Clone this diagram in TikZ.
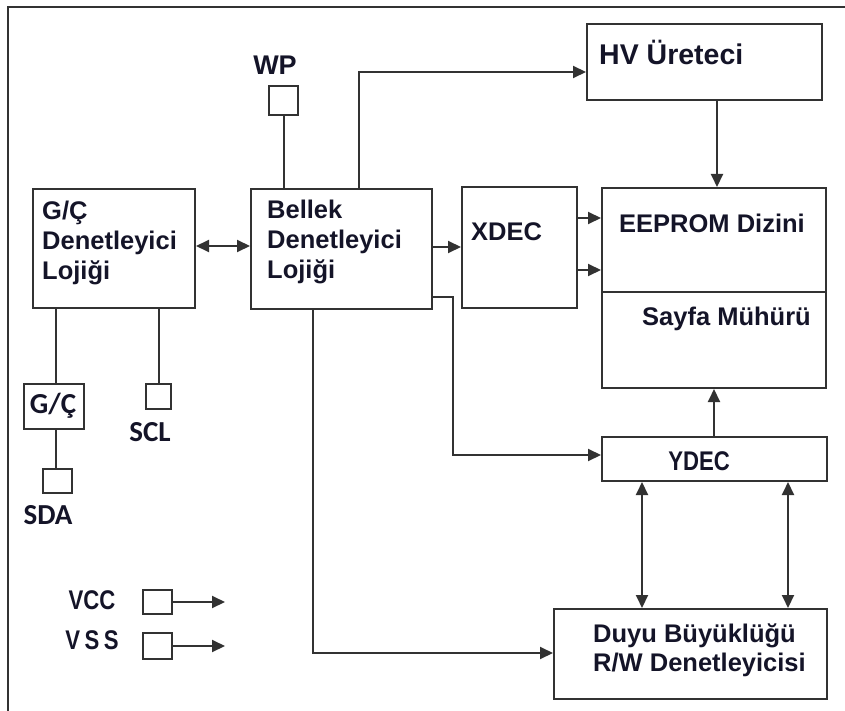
\documentclass[tikz,border=0pt]{standalone}
\usepackage{fontspec}
\setmainfont{Liberation Sans}
\newfontfamily\narrowfont[FakeStretch=0.82]{Liberation Sans}
\newfontfamily\calfont{Carlito}
\usetikzlibrary{arrows.meta}
\definecolor{ln}{RGB}{50,50,50}
\definecolor{tx}{RGB}{20,20,40}
\tikzset{
 box/.style={draw=ln, line width=2pt, inner sep=0pt, anchor=north west},
 lbl/.style={text=tx, inner sep=0pt, align=left},
 big/.style={lbl, anchor=west, font=\bfseries\fontsize{25.5}{30}\selectfont},
 narrowtxt/.style={lbl, font=\narrowfont\bfseries\fontsize{27}{30}\selectfont},
 caltxt/.style={lbl, font=\calfont\bfseries\fontsize{29}{32}\selectfont},
 conn/.style={draw=ln, line width=2pt},
 arr/.style={conn, -{Triangle[length=13pt,width=12pt]}},
 darr/.style={conn, {Triangle[length=13pt,width=12pt]}-{Triangle[length=13pt,width=12pt]}},
}
\begin{document}
\begin{tikzpicture}[x=1pt,y=-1pt]
\useasboundingbox (0,0) rectangle (845,711);
% outer frame
\draw[conn] (8,711) -- (8,7) -- (845,7);

% boxes
\node[box, minimum width=235pt, minimum height=76pt] (hv) at (586,23) {};
\node[box, minimum width=224pt, minimum height=200pt] (eep) at (601,187) {};
\node[box, minimum width=115pt, minimum height=121pt] (xdec) at (461,186) {};
\node[box, minimum width=181pt, minimum height=120pt] (bel) at (250,188) {};
\node[box, minimum width=162pt, minimum height=119pt] (gc) at (32,188) {};
\node[box, minimum width=225pt, minimum height=44pt] (ydec) at (601,436) {};
\node[box, minimum width=273pt, minimum height=90pt] (duyu) at (553,608) {};
\node[box, minimum width=60pt, minimum height=45pt] (gcs) at (23,383) {};
\node[box, minimum width=29pt, minimum height=29pt] (wp) at (268,85) {};
\node[box, minimum width=25pt, minimum height=25pt] (scl) at (145,383) {};
\node[box, minimum width=29pt, minimum height=24pt] (sda) at (42,468) {};
\node[box, minimum width=29pt, minimum height=24pt] (vcc) at (142,589) {};
\node[box, minimum width=29pt, minimum height=26pt] (vss) at (142,632) {};

% divider in EEPROM block
\draw[conn] (eep.west |- 0,292) -- (eep.east |- 0,292);

% texts
\node[big, font=\bfseries\fontsize{28.5}{32}\selectfont] (hvT) at (599,52) {HV Üreteci};
\node[big] (eepT) at (619,223) {EEPROM Dizini};
\node[big] (sayT) at (642,319) {Sayfa Mühürü};
\node[big] (xdecT) at (471,232) {XDEC};
\node[big] (belT) at (267,242) {Bellek\\Denetleyici\\Lojiği};
\node[big] (gcT) at (42,243) {G/Ç\\Denetleyici\\Lojiği};
\node[narrowtxt] (ydecT) at (699,461) {YDEC};
\node[big, font=\bfseries\fontsize{25.5}{29}\selectfont] (duyuT) at (593,650) {Duyu Büyüklüğü\\R/W Denetleyicisi};
\node[lbl, font=\bfseries\fontsize{27}{30}\selectfont] (wpT) at (275,65) {WP};
\node[caltxt] (gcsT) at (53,406) {G/Ç};
\node[caltxt] (sclT) at (150,432) {SCL};
\node[caltxt] (sdaT) at (48,515) {SDA};
\node[narrowtxt] (vccT) at (92,600) {VCC};
\node[narrowtxt] (vssT) at (92,640) {V\,S\,S};

% connectors
\draw[darr] (gc.east |- 0,246) -- (bel.west |- 0,246);
\draw[arr] (bel.east |- 0,247) -- (xdec.west |- 0,247);
\draw[arr] (xdec.east |- 0,218) -- (eep.west |- 0,218);
\draw[arr] (xdec.east |- 0,270) -- (eep.west |- 0,270);
\draw[arr] (hv.south -| 717,0) -- (eep.north -| 717,0);
\draw[arr] (bel.north -| 359,0) |- (hv.west |- 0,72);
\draw[conn] (wp.south) -- (bel.north -| wp.south);
\draw[conn] (gc.south -| 56,0) -- (gcs.north -| 56,0);
\draw[conn] (gcs.south -| 56,0) -- (sda.north -| 56,0);
\draw[conn] (gc.south -| scl.north) -- (scl.north);
\draw[arr] (bel.east |- 0,297) -- (453,297) |- (ydec.west |- 0,455);
\draw[arr] (ydec.north -| 714,0) -- (eep.south -| 714,0);
\draw[darr] (ydec.south -| 642,0) -- (duyu.north -| 642,0);
\draw[darr] (ydec.south -| 788,0) -- (duyu.north -| 788,0);
\draw[arr] (bel.south -| 313,0) |- (duyu.west |- 0,653);
\draw[arr] (vcc.east) -- ++(52,0);
\draw[arr] (vss.east) -- ++(52,0);
\end{tikzpicture}
\end{document}
